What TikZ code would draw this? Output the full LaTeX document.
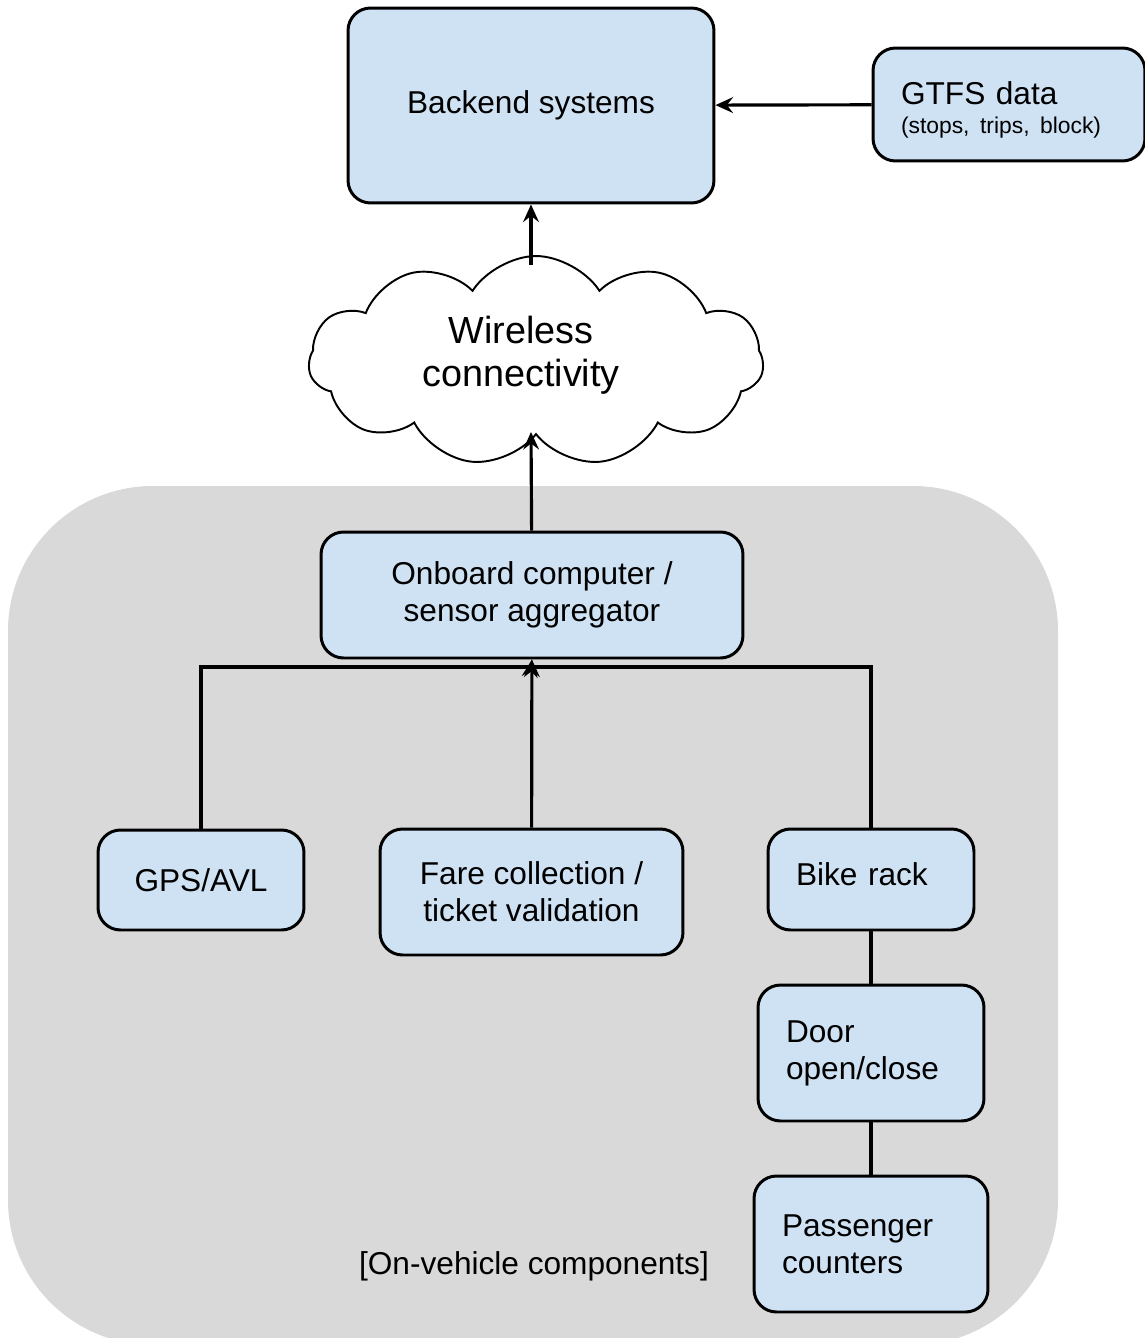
\documentclass[tikz,border=0pt]{standalone}
\usepackage{fontspec}
\setmainfont{Liberation Sans}
\usepackage{tikz}
\usetikzlibrary{arrows.meta,shapes.symbols}

\definecolor{boxblue}{HTML}{CFE2F3}
\definecolor{vehiclegray}{HTML}{D9D9D9}

\tikzset{
    unit/.style={draw, line width=1.7pt, fill=boxblue, rounded corners=0.45cm,
        align=center, font=\fontsize{18}{21}\selectfont},
    leftunit/.style={unit, align=left, inner xsep=0.56cm},
    link/.style={line width=1.8pt},
    feed/.style={link, -{Stealth[length=10pt,width=9pt,inset=3.5pt]}}
}

\begin{document}
\begin{tikzpicture}[x=0.02cm, y=-0.02cm]
        \useasboundingbox (0,0) rectangle (1145,1338);

        % The vehicle area behind the onboard parts
        \fill[vehiclegray, rounded corners=2.9cm] (8,486) rectangle (1058,1345);
        \node (vehicle) at (534,1266) {\fontsize{18}{21}\selectfont [On-vehicle components]};

        % Back office side
        \node[unit, minimum width=7.32cm, minimum height=3.9cm] (backend) at (531,105.5) {Backend systems};
        \node[leftunit, text width=4.32cm, minimum height=2.26cm] (gtfs) at (1009,104.5)
            {\rule{0pt}{19.4pt}GTFS data\\[-4.5pt]{\fontsize{13}{15}\selectfont (stops, trips, block)}};

        % The wireless link
        \node[cloud, draw, fill=white, line width=1.1pt, cloud puffs=11, cloud puff arc=115,
              aspect=2.2, minimum width=9.1cm, minimum height=4.2cm,
              align=center, font=\fontsize{21.5}{24.5}\selectfont] (wireless) at (536,361)
            {\hspace*{-17pt}Wireless\\\hspace*{-17pt}connectivity\rule[-11.3pt]{0pt}{0pt}};
        \coordinate (cloudout) at (531,265);
        \coordinate (cloudin) at (531,432);

        % Onboard computer and the sensors
        \node[unit, minimum width=8.44cm, minimum height=2.52cm] (onboard) at (532,595)
            {Onboard computer /\\sensor aggregator};
        \node[unit, minimum width=4.12cm, minimum height=2.0cm] (gps) at (201,880) {GPS/AVL};
        \node[unit, minimum width=6.06cm, minimum height=2.52cm] (fare) at (531.5,892)
            {Fare collection /\\ticket validation};
        \node[leftunit, text width=3.0cm, minimum height=2.02cm] (bike) at (871,879.5)
            {Bike rack\rule[-5.7pt]{0pt}{0pt}};
        \node[leftunit, text width=3.4cm, minimum height=2.72cm] (door) at (871,1053) {Door\\open/close};
        \node[leftunit, text width=3.56cm, minimum height=2.72cm] (counters) at (871,1244) {Passenger\\counters};

        % Where the side branches meet
        \coordinate (join) at (531,667);

        % Connectors
        \draw[feed] (gtfs) -- (backend);
        \draw[feed] (cloudout) -- (backend);
        \draw[feed] (onboard) -- (cloudin);
        \draw[feed] (fare) -- (onboard);
        \draw[link] (gps.north) |- (join);
        \draw[link] (bike.north) |- (join);
        \draw[feed] (join) -- (onboard.south);
        \draw[link] (bike) -- (door);
        \draw[link] (door) -- (counters);

    \end{tikzpicture}
\end{document}
